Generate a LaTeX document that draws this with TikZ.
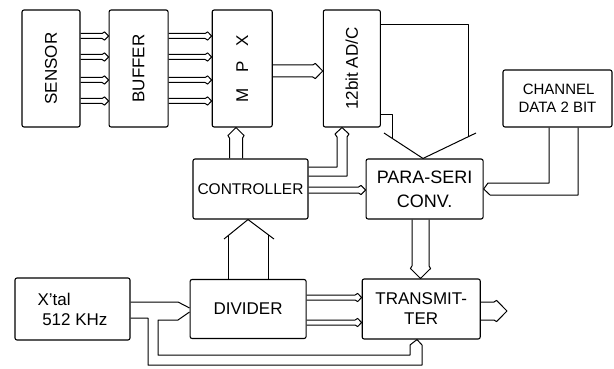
\documentclass[tikz,border=0pt]{standalone}
\usepackage{fontspec}
\setmainfont{Liberation Sans}
\usepackage{graphicx}
\usepackage{tikz}
\usetikzlibrary{positioning,calc}
\newcommand{\blkfont}{\fontsize{17}{20}\selectfont}
\tikzset{
  blk/.style     = {draw, line width=1.1pt, rounded corners=2pt, align=center,
                    inner sep=2pt, minimum width=116pt, minimum height=60pt,
                    font=\blkfont},
  tallblk/.style = {blk, minimum height=117pt},
  wire/.style    = {line width=1pt, line join=round},
}
% two-line bus with a small pointed head: from, to, half gap
\newcommand{\busline}[3]{%
  \coordinate (bs) at (#1);
  \coordinate (bt) at (#2);
  \coordinate (bh) at ($(bt)!#3+4pt!(bs)$);
  \coordinate (bk) at ($(bt)!#3+1.5pt!(bs)$);
  \draw[wire] ($(bs)!#3!90:(bt)$) -- ($(bh)!#3!90:(bt)$) -- ($(bk)!#3+1.6pt!90:(bt)$)
    -- (bt) -- ($(bk)!#3+1.6pt!-90:(bt)$) -- ($(bh)!#3!-90:(bt)$) -- ($(bs)!#3!-90:(bt)$);
}
\begin{document}
\begin{tikzpicture}[x=1pt, y=-1pt]
  \useasboundingbox (0,0) rectangle (614,369);
  % top row
  \node[tallblk, minimum width=58pt] (sensor) at (51,68.5) {\rotatebox{90}{SENSOR}};
  \node[tallblk, minimum width=59pt, right=28pt of sensor] (buffer) {\rotatebox{90}{BUFFER}};
  \node[tallblk, minimum width=60pt, right=43pt of buffer] (mpx)
    {\rotatebox{90}{M\hspace{0.9em}P\hspace{0.9em}X}};
  \node[tallblk, minimum width=57pt, right=50pt of mpx] (adc) {\rotatebox{90}{12bit AD/C}};
  \node[blk, minimum width=109pt, minimum height=57pt, align=left,
        font=\fontsize{15}{18}\selectfont] (chan) at (557.5,98.5)
    {\ CHANNEL\\DATA 2 BIT};
  % middle row
  \node[blk, minimum width=115pt, font=\fontsize{15.5}{18}\selectfont] (ctrl) at (250.5,189)
    {CONTROLLER};
  \node[blk, minimum width=117pt, right=57pt of ctrl, font=\fontsize{18}{24}\selectfont]
    (paraseri) {PARA-SERI\\CONV.};
  % bottom row
  \node[blk, minimum width=115pt, minimum height=62pt, align=left] (xtal) at (72.5,309)
    {X'tal\\\ 512 KHz};
  \node[blk, minimum width=116pt, minimum height=59pt, right=59pt of xtal] (divider) {DIVIDER};
  \node[blk, minimum width=118pt, right=55pt of divider] (tx) {TRANSMIT-\\TER};
  \coordinate (out) at (507,311);

  % buses
  \foreach \y in {36,57,80,101} {
    \busline{sensor.east |- 0,\y}{buffer.west |- 0,\y}{2.5pt}
    \busline{buffer.east |- 0,\y}{mpx.west |- 0,\y}{2.5pt}
  }
  \busline{mpx.east |- 0,71}{adc.west |- 0,71}{6pt}
  \busline{ctrl.north -| 236,0}{mpx.south -| 236,0}{6.5pt}
  \busline{ctrl.east |- 0,190}{paraseri.west |- 0,190}{3pt}
  \busline{paraseri.south -| 420.5,0}{tx.north -| 420.5,0}{8.5pt}
  \busline{divider.east |- 0,297.5}{tx.west |- 0,297.5}{2.5pt}
  \busline{divider.east |- 0,322.5}{tx.west |- 0,322.5}{2.5pt}
  \busline{tx.east |- 0,311}{out}{9pt}
  \draw[wire] (ctrl.east |- 0,167) -| (337,137) -- (335,134) -- (adc.south -| 342,0)
    -- (349,134) -- (347,137) |- (ctrl.east |- 0,176);

  % wide heads
  \draw[wire] (divider.north -| 228,0) -- (228,236);
  \draw[wire] (divider.north -| 268,0) -- (268,234.5);
  \draw[wire] (224,239) -- (ctrl.south -| 248,0) -- (274,239);
  \draw[wire] (adc.east |- 0,115) -- (392,115) -- (392,138.5);
  \draw[wire] (adc.east |- 0,25) -- (468,25) -- (468,137);
  \draw[wire] (384,133) -- (paraseri.north -| 423,0) -- (476,133);

  % channel data
  \draw[wire] (chan.south -| 549,0) -- (549,183) -- (488,183)
    -- (paraseri.east |- 0,189) -- (490,195) -- (578,195) -- (chan.south -| 578,0);

  % clock lines
  \draw[wire] (xtal.east |- 0,302) -- (178,302) -- (divider.west |- 0,308);
  \draw[wire] (divider.west |- 0,312) -- (178,320) -- (158,320) -- (158,355)
    -- (410,355) -- (410,345) -- (tx.south -| 417,0);
  \draw[wire] (xtal.east |- 0,318) -- (148,318) -- (148,365)
    -- (422,365) -- (422,345) -- (tx.south -| 417,0);
\end{tikzpicture}
\end{document}
